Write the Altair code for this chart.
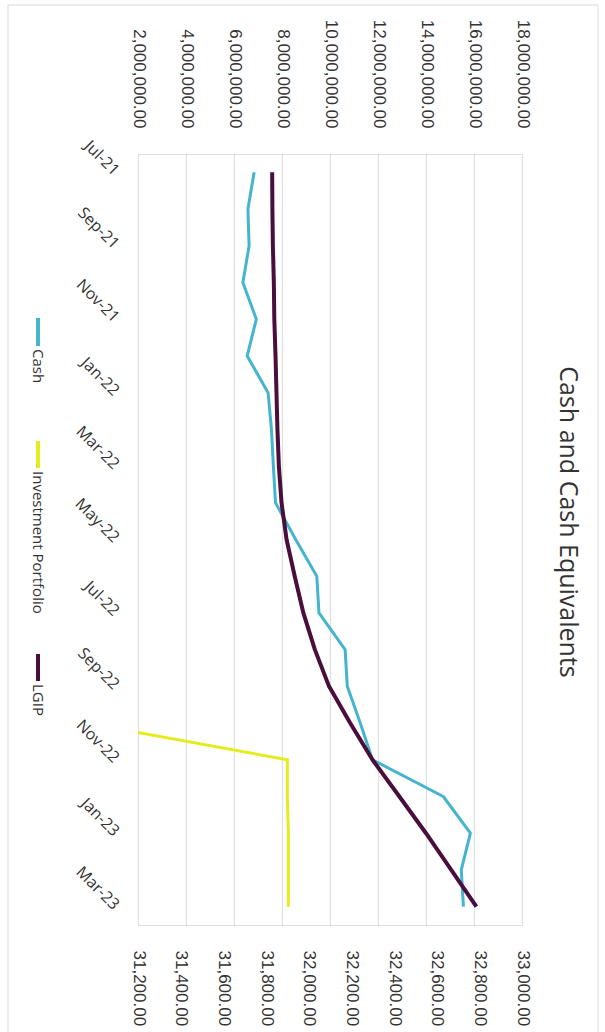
import altair as alt
import pandas as pd

months = ["Jul-21", "Aug-21", "Sep-21", "Oct-21", "Nov-21", "Dec-21",
          "Jan-22", "Feb-22", "Mar-22", "Apr-22", "May-22", "Jun-22",
          "Jul-22", "Aug-22", "Sep-22", "Oct-22", "Nov-22", "Dec-22",
          "Jan-23", "Feb-23", "Mar-23"]

cash = [6.84, 6.58, 6.63, 6.37, 6.93, 6.55, 7.42, 7.56, 7.64, 7.73, 8.57,
        9.45, 9.54, 10.63, 10.72, 11.26, 11.77, 14.72, 15.85, 15.47, 15.56]
cash = [v * 1e6 for v in cash]

lgip = [7.59, 7.60, 7.62, 7.66, 7.68, 7.73, 7.77, 7.81, 7.87, 7.98, 8.19,
        8.53, 8.89, 9.37, 9.96, 10.84, 11.77, 12.89, 14.00, 15.05, 16.10]
lgip = [v * 1e6 for v in lgip]

invest = [None] * 15 + [30960, 31900, 31900, 31905, 31905, 31905]

primary_ticks = [2e6, 4e6, 6e6, 8e6, 10e6, 12e6, 14e6, 16e6, 18e6]
secondary_ticks = [31200, 31400, 31600, 31800, 32000, 32200, 32400, 32600, 32800, 33000]
date_ticks = months[::2]

title_text = "Cash and Cash Equivalents"
series_names = ["Cash", "Investment Portfolio", "LGIP"]
series_colors = ["#45B4CE", "#E4EC1E", "#4A0E3C"]

idx = list(range(len(months)))
long_df = pd.DataFrame({
    "Month": months * 2,
    "idx": idx * 2,
    "Series": ["Cash"] * len(months) + ["LGIP"] * len(months),
    "Value": cash + lgip,
})
inv_df = pd.DataFrame({"Month": months, "idx": idx, "Invest": invest})

LABEL_COLOR = "#333333"
NUM_FONT = "Liberation Sans"
TXT_FONT = "Open Sans"

y_enc = alt.Y("Month:O", sort=months,
              scale=alt.Scale(type="point", padding=0.5),
              axis=alt.Axis(values=date_ticks, labelAngle=45, labelAlign="right",
                            labelBaseline="middle", labelPadding=22, labelFontSize=16,
                            labelFont=TXT_FONT, labelColor=LABEL_COLOR, ticks=False,
                            domain=False, grid=False, title=None))

lines = alt.Chart(long_df).mark_line(strokeJoin="round").encode(
    x=alt.X("Value:Q",
            scale=alt.Scale(domain=[2e6, 18e6], nice=False, zero=False),
            axis=alt.Axis(orient="top", values=primary_ticks, format=",.2f",
                          labelAngle=90, labelAlign="right", labelBaseline="middle",
                          labelPadding=26, labelFontSize=17, labelFont=NUM_FONT,
                          labelColor=LABEL_COLOR, grid=True, gridColor="#e0e0e0",
                          gridWidth=1.2, domain=False, ticks=False, title=None)),
    y=y_enc,
    color=alt.Color("Series:N", scale=alt.Scale(domain=["Cash", "LGIP"],
                    range=[series_colors[0], series_colors[2]]), legend=None),
    size=alt.Size("Series:N", scale=alt.Scale(domain=["Cash", "LGIP"], range=[3, 4]),
                  legend=None),
    order=alt.Order("idx:Q"),
)

inv_line = alt.Chart(inv_df).mark_line(color=series_colors[1], strokeWidth=3,
                                        clip=True).encode(
    x=alt.X("Invest:Q",
            scale=alt.Scale(domain=[31200, 33000], nice=False, zero=False),
            axis=alt.Axis(orient="bottom", values=secondary_ticks, format=",.2f",
                          labelAngle=90, labelAlign="left", labelBaseline="middle",
                          labelPadding=25, labelFontSize=17, labelFont=NUM_FONT,
                          labelColor=LABEL_COLOR, grid=False, domain=False,
                          ticks=False, title=None)),
    y=y_enc,
    order=alt.Order("idx:Q"),
)

one = pd.DataFrame({"a": [0]})

# faint chart-area border
border = alt.Chart(one).mark_rect(fill=None, stroke="#dadada", strokeWidth=1).encode(
    x=alt.value(-130), x2=alt.value(460), y=alt.value(-149), y2=alt.value(890))

# rotated chart title (reads top to bottom, like the reference)
title = alt.Chart(one).mark_text(text=title_text, angle=90, align="center",
                                 baseline="middle", fontSize=25, font=TXT_FONT,
                                 color=LABEL_COLOR).encode(
    x=alt.value(430), y=alt.value(368))

# Manual legend (rotated text like the reference)
legend_x = -100
legend_items = [
    (series_names[0], series_colors[0], 164, 192),
    (series_names[1], series_colors[1], 287, 314),
    (series_names[2], series_colors[2], 500, 527),
]
legend_layers = []
for name, col, y0, y1 in legend_items:
    legend_layers.append(
        alt.Chart(one).mark_rule(color=col, strokeWidth=4).encode(
            x=alt.value(legend_x), y=alt.value(y0), y2=alt.value(y1)))
    legend_layers.append(
        alt.Chart(one).mark_text(text=name, angle=90, align="left", baseline="middle",
                                 fontSize=15, font=TXT_FONT, color=LABEL_COLOR).encode(
            x=alt.value(legend_x), y=alt.value(y1 + 3)))

chart = alt.layer(border, lines, inv_line, title, *legend_layers).resolve_scale(
    x="independent"
).properties(
    width=384,
    height=771,
    autosize=alt.AutoSizeParams(type="none"),
    padding={"left": 138, "top": 154, "right": 83, "bottom": 107},
).configure_view(stroke=None).configure(background="white")

chart.save("out.html", embed_options={"renderer": "svg", "actions": False})
